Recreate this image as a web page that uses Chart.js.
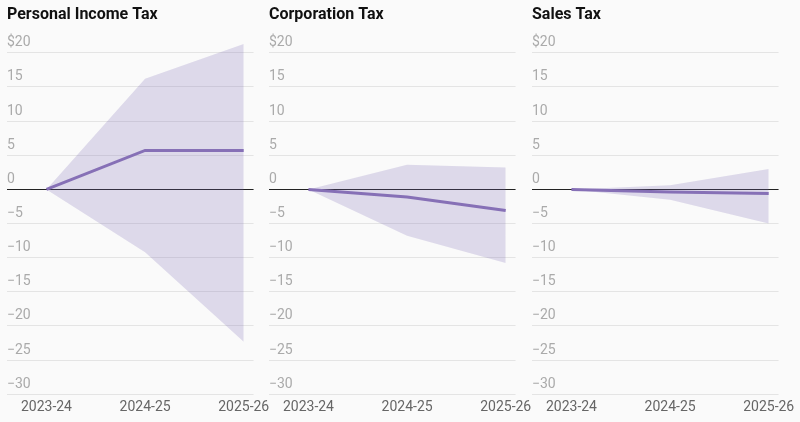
<!DOCTYPE html>
<html>
<head>
<meta charset="utf-8">
<script src="https://cdn.jsdelivr.net/npm/chart.js@4/dist/chart.umd.min.js"></script>
<style>
    body { margin: 0; background: #fafafa; }
    #wrap { position: relative; width: 800px; height: 422px; overflow: hidden; }
    #wrap canvas { position: absolute; top: 0; }
</style>
</head>
<body>
<div id="wrap">
    <canvas id="c0" width="275" height="422" style="left:0px"></canvas>
    <canvas id="c1" width="275" height="422" style="left:262px"></canvas>
    <canvas id="c2" width="275" height="422" style="left:525px"></canvas>
</div>
<script>
//年度
var years = ['2023-24', '2024-25', '2025-26'];
//y轴刻度
var yTicks = [20, 15, 10, 5, 0, -5, -10, -15, -20, -25, -30];
var titles = ['Personal Income Tax', 'Corporation Tax', 'Sales Tax'];

//Personal Income Tax
var pitLine = [0, 5.7, 5.7];
var pitHigh = [0, 16.2, 21.3];
var pitLow = [0, -9.2, -22.3];

//Corporation Tax
var corpLine = [0, -1.1, -3.1];
var corpHigh = [0, 3.6, 3.2];
var corpLow = [0, -6.8, -10.8];

//Sales Tax
var salesLine = [0, -0.4, -0.6];
var salesHigh = [0, 0.6, 3.0];
var salesLow = [0, -1.5, -5.0];

Chart.defaults.font.family = 'Roboto';

/**
 * 把数组转成 {x,y}
 * @param arr
 */
function toPoints(arr) {
    var pts = [];
    for (var i = 0; i < arr.length; i++) {
        pts.push({x: i, y: arr[i]});
    }
    return pts;
}

/**
 * 画一个小图
 * @param id canvas id
 * @param title
 * @param line
 * @param high
 * @param low
 */
function drawPanel(id, title, line, high, low) {
    var ctx = document.getElementById(id).getContext('2d');
    return new Chart(ctx, {
        type: 'line',
        data: {
            datasets: [{
                data: toPoints(line),
                borderColor: '#8670b6',
                borderWidth: 3,
                pointRadius: 0,
                fill: false
            }, {
                data: toPoints(high),
                borderWidth: 0,
                pointRadius: 0,
                backgroundColor: 'rgba(118,98,176,0.22)',
                fill: '+1'
            }, {
                data: toPoints(low),
                borderWidth: 0,
                pointRadius: 0,
                fill: false
            }]
        },
        options: {
            responsive: false,
            animation: false,
            devicePixelRatio: 1,
            layout: {padding: {left: 7, right: 19, top: 0, bottom: 1}},
            plugins: {
                legend: {display: false},
                tooltip: {enabled: false},
                title: {
                    display: true,
                    text: title,
                    align: 'start',
                    color: '#111',
                    font: {size: 16, weight: 'bold'},
                    padding: {top: 5, bottom: 15}
                }
            },
            scales: {
                x: {
                    type: 'linear',
                    min: -0.4,
                    max: 2.1,
                    grid: {display: false, drawTicks: false},
                    border: {display: false},
                    afterBuildTicks: function (axis) {
                        axis.ticks = years.map(function (y, i) { return {value: i}; });
                    },
                    ticks: {
                        color: '#666',
                        font: {size: 14},
                        padding: 5,
                        maxRotation: 0,
                        callback: function (v) { return years[v]; }
                    }
                },
                y: {
                    min: -30,
                    max: 22,
                    grid: {
                        drawTicks: false,
                        color: function (c) { return c.tick.value === 0 ? '#222' : '#e4e4e4'; }
                    },
                    border: {display: false},
                    afterBuildTicks: function (axis) {
                        axis.ticks = yTicks.map(function (v) { return {value: v}; });
                    },
                    ticks: {
                        mirror: true,
                        padding: 0,
                        labelOffset: -10,
                        color: '#aaa',
                        font: {size: 14},
                        callback: function (v) {
                            if (v === 20) return '$20';
                            return v < 0 ? '\u2212' + Math.abs(v) : String(v);
                        }
                    }
                }
            }
        }
    });
}

drawPanel('c0', titles[0], pitLine, pitHigh, pitLow);
drawPanel('c1', titles[1], corpLine, corpHigh, corpLow);
drawPanel('c2', titles[2], salesLine, salesHigh, salesLow);
</script>
</body>
</html>
